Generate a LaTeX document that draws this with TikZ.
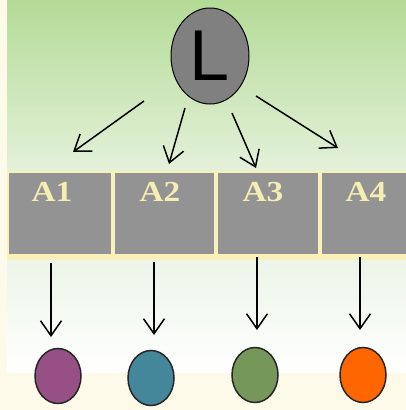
\documentclass[tikz,border=0pt]{standalone}
\usepackage{fontspec}
\usepackage{graphicx}
\setmainfont{Liberation Serif}
\newfontfamily\lsans{Liberation Sans}
\usetikzlibrary{arrows.meta,shapes.geometric}
\definecolor{creambg}{RGB}{254,250,234}
\definecolor{greentop}{RGB}{180,219,150}
\definecolor{greenbot}{RGB}{228,241,218}
\definecolor{lowtop}{RGB}{236,245,232}
\definecolor{boxgray}{RGB}{147,147,147}
\definecolor{boxline}{RGB}{248,242,186}
\definecolor{boxtext}{RGB}{244,238,178}
\definecolor{lgray}{RGB}{128,128,128}
\definecolor{cpurple}{RGB}{150,80,134}
\definecolor{cteal}{RGB}{68,135,154}
\definecolor{cgreen}{RGB}{118,151,90}
\definecolor{corange}{RGB}{255,102,0}
\newcommand{\boxlabel}[2]{\hspace*{#2}\scalebox{1.15}[1]{#1}}
\tikzset{
  arr/.style={line width=1.5pt,-{Straight Barb[length=15pt,width=21pt,line width=1.5pt]}},
  abox/.style={rectangle,fill=boxgray,draw=none,inner sep=0pt,anchor=north,
    minimum height=81pt,text height=28pt,text depth=53pt,
    font=\fontsize{29}{29}\selectfont\bfseries,text=boxtext},
  dot/.style={ellipse,draw=black!85,line width=1.5pt,minimum width=46pt,minimum height=55pt,inner sep=0pt}
}
\begin{document}
\begin{tikzpicture}[x=1pt,y=1pt]
\useasboundingbox (0,0) rectangle (406,-410);
\fill[creambg] (0,0) rectangle (406,-410);
\shade[top color=greentop,bottom color=greenbot] (7,0) rectangle (406,-171);
\fill[boxline] (7,-171) rectangle (406,-260);
\shade[top color=lowtop,bottom color=white] (7,-260) rectangle (406,-372);
% boxes
\node[abox,minimum width=102pt] (A1) at (60,-173) {\scalebox{1.15}[1]{A1}\hspace*{16pt}};
\node[abox,minimum width=99pt] (A2) at (164.5,-173) {\scalebox{1.15}[1]{A2}\hspace*{9pt}};
\node[abox,minimum width=100pt] (A3) at (268,-173) {\scalebox{1.15}[1]{A3}\hspace*{10pt}};
\node[abox,minimum width=84pt] (A4) at (364,-173) {\hspace*{4pt}\scalebox{1.15}[1]{A4}};
% L node
\node[ellipse,draw=black,line width=1pt,fill=lgray,minimum width=78pt,minimum height=96pt,inner sep=0pt,
  font=\lsans\fontsize{72}{72}\selectfont] (L) at (210,-56) {L};
% dots
\node[dot,fill=cpurple] (D1) at (58,-376) {};
\node[dot,fill=cteal] (D2) at (151,-378) {};
\node[dot,fill=cgreen] (D3) at (255,-375) {};
\node[dot,fill=corange] (D4) at (363,-375) {};
% arrow end points
\coordinate (s1) at (144,-101); \coordinate (e1) at (73,-152);
\coordinate (s2) at (185,-108); \coordinate (e2) at (169,-164);
\coordinate (s3) at (232,-113); \coordinate (e3) at (256,-168);
\coordinate (s4) at (256,-96);  \coordinate (e4) at (338,-148);
\draw[arr] (s1) -- (e1);
\draw[arr] (s2) -- (e2);
\draw[arr] (s3) -- (e3);
\draw[arr] (s4) -- (e4);
\coordinate (b1) at (51,-263); \coordinate (c1) at (51,-337);
\coordinate (b2) at (154,-262); \coordinate (c2) at (154,-335);
\coordinate (b3) at (257,-257); \coordinate (c3) at (257,-330);
\coordinate (b4) at (360,-257); \coordinate (c4) at (360,-330);
\draw[arr] (b1) -- (c1);
\draw[arr] (b2) -- (c2);
\draw[arr] (b3) -- (c3);
\draw[arr] (b4) -- (c4);
\end{tikzpicture}
\end{document}
